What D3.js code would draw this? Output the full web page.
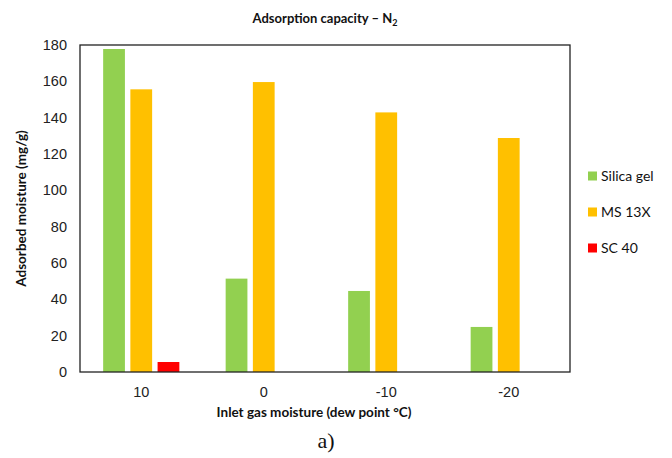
<!DOCTYPE html>
<html lang="en">
<head>
<meta charset="UTF-8">
<title>Adsorption capacity</title>
<script src="https://d3js.org/d3.v7.min.js"></script>
<style>
    body {
        margin: 0;
        background: #fff;
        font-family: Lato, "Open Sans", sans-serif;
    }
    .axis text {
        font-size: 14.5px;
        fill: #222;
    }
</style>
</head>
<body>
<div id="chart"></div>
<script>
// data
var categories = ["10", "0", "-10", "-20"];
var series = ["Silica gel", "MS 13X", "SC 40"];
var silicaGel = [177.8, 51.4, 44.6, 24.8];
var ms13x = [155.6, 159.6, 142.9, 128.8];
var sc40 = [5.5, 0, 0, 0];
var yTicks = [0, 20, 40, 60, 80, 100, 120, 140, 160, 180];

var colors = ["#92D050", "#FFC000", "#FF0000"];
var values = [silicaGel, ms13x, sc40];

var width = 672, height = 458;
var margin = {top: 45, right: 102, bottom: 86, left: 80};
var plotW = width - margin.left - margin.right;
var plotH = height - margin.top - margin.bottom;

var svg = d3.select("#chart").append("svg")
    .attr("width", width)
    .attr("height", height);

var g = svg.append("g")
    .attr("transform", "translate(" + margin.left + "," + margin.top + ")");

var x0 = d3.scaleBand()
    .domain(categories)
    .range([0, plotW])
    .paddingInner(0.378)
    .paddingOuter(0.189);

var x1 = d3.scaleBand()
    .domain(series)
    .range([0, x0.bandwidth()])
    .paddingInner(0.2)
    .paddingOuter(0);

var y = d3.scaleLinear()
    .domain([0, 180])
    .range([plotH, 0]);

// bars
var rows = categories.map(function(c, i) {
    return series.map(function(s, j) {
        return {cat: c, key: s, value: values[j][i], color: colors[j]};
    });
});

g.selectAll("g.group")
    .data(rows)
    .enter().append("g")
    .attr("class", "group")
    .attr("transform", function(d, i) { return "translate(" + x0(categories[i]) + ",0)"; })
    .selectAll("rect")
    .data(function(d) { return d.filter(function(e) { return e.value > 0; }); })
    .enter().append("rect")
    .attr("x", function(d) { return x1(d.key); })
    .attr("y", function(d) { return y(d.value); })
    .attr("width", x1.bandwidth())
    .attr("height", function(d) { return plotH - y(d.value); })
    .attr("fill", function(d) { return d.color; });

// frame
g.append("rect")
    .attr("x", 0).attr("y", 0)
    .attr("width", plotW).attr("height", plotH)
    .attr("fill", "none")
    .attr("stroke", "#222")
    .attr("stroke-width", 1.3);

// axes
var yAxis = g.append("g")
    .attr("class", "axis")
    .call(d3.axisLeft(y).tickValues(yTicks).tickSize(0).tickPadding(13));
yAxis.select(".domain").remove();

var xAxis = g.append("g")
    .attr("class", "axis")
    .attr("transform", "translate(0," + plotH + ")")
    .call(d3.axisBottom(x0).tickSize(0).tickPadding(15));
xAxis.select(".domain").remove();

// title
var title = svg.append("text")
    .attr("x", 325)
    .attr("y", 23)
    .attr("text-anchor", "middle")
    .style("font-size", "13px")
    .style("font-weight", "bold")
    .attr("fill", "#111");
title.append("tspan").text("Adsorption capacity \u2013 N");
title.append("tspan").text("2").attr("dy", 3).style("font-size", "9px");

// axis titles
svg.append("text")
    .attr("transform", "translate(26," + (margin.top + plotH / 2) + ") rotate(-90)")
    .attr("text-anchor", "middle")
    .style("font-size", "13.5px")
    .style("font-weight", "bold")
    .attr("fill", "#111")
    .text("Adsorbed moisture (mg/g)");

svg.append("text")
    .attr("x", 314)
    .attr("y", 417)
    .attr("text-anchor", "middle")
    .style("font-size", "13.5px")
    .style("font-weight", "bold")
    .attr("fill", "#111")
    .text("Inlet gas moisture (dew point \u00B0C)");

svg.append("text")
    .attr("x", 326)
    .attr("y", 448)
    .attr("text-anchor", "middle")
    .style("font-family", "'Liberation Serif', 'DejaVu Serif', serif")
    .style("font-size", "22px")
    .attr("fill", "#111")
    .text("a)");

// legend
var legend = svg.selectAll("g.legend")
    .data(series)
    .enter().append("g")
    .attr("class", "legend")
    .attr("transform", function(d, i) { return "translate(588," + (176 + i * 36) + ")"; });

legend.append("rect")
    .attr("x", 0)
    .attr("y", -4.5)
    .attr("width", 9)
    .attr("height", 9)
    .attr("fill", function(d, i) { return colors[i]; });

legend.append("text")
    .attr("x", 13)
    .attr("y", 0)
    .attr("dy", "0.35em")
    .style("font-size", "14px")
    .attr("fill", "#111")
    .text(function(d) { return d; });
</script>
</body>
</html>
